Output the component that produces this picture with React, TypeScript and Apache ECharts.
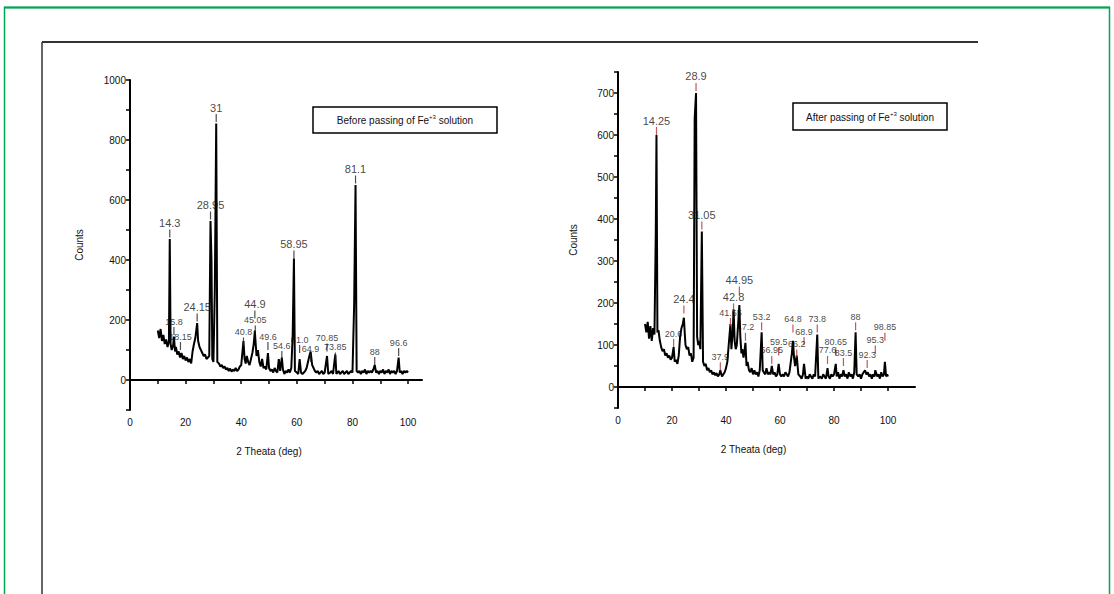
import React, { useEffect, useRef } from "react";
import * as echarts from "echarts";

// ---- Data: "Before passing of Fe+3 solution" ----
const leftTheta = [10,10.5,11,11.5,12,12.5,13,13.5,14,14.3,14.6,15,15.5,15.8,16.2,16.5,17,17.5,18,18.5,19,19.5,20,20.5,21,21.5,22,22.5,23,23.5,24.15,24.5,25,25.5,26,26.5,27,27.5,28,28.5,28.95,29.3,29.6,30,30.5,31,31.4,32,32.5,33,33.5,34,34.5,35,35.5,36,36.5,37,37.5,38,38.5,39,39.5,40,40.8,41.2,41.6,42,42.5,43,43.5,44,44.5,44.9,45.05,45.5,46,46.5,47,47.5,48,48.5,49,49.6,50,50.5,51,51.5,52,52.5,53,53.5,54,54.6,55,55.5,56,56.5,57,57.5,58,58.5,58.95,59.3,60,60.5,61,61.5,62,62.5,63,63.5,64,64.5,64.95,65.5,66,66.5,67,67.5,68,68.5,69,69.5,70,70.85,71.3,72,72.5,73,73.5,73.85,74.2,75,75.5,76,76.5,77,77.5,78,78.5,79,79.5,80,80.6,81.1,81.5,82,82.5,83,83.5,84,84.5,85,85.5,86,86.5,87,87.5,88,88.5,89,89.5,90,90.5,91,91.5,92,92.5,93,93.5,94,94.5,95,95.5,96,96.6,97,97.5,98,98.5,99,99.5,100];
const leftCounts = [165,140,170,130,150,120,135,110,130,470,120,100,115,145,95,110,85,95,75,90,70,80,65,75,60,70,55,95,120,140,190,130,110,100,90,80,85,70,75,80,530,400,70,60,300,855,60,55,45,50,40,45,35,40,30,38,28,35,30,40,30,35,45,50,130,70,55,80,60,50,70,90,120,165,140,80,100,60,45,70,40,45,35,90,40,30,35,25,40,30,25,70,30,75,35,20,30,25,35,25,40,150,405,30,25,20,70,25,20,25,30,40,60,80,95,50,40,30,25,30,20,25,30,20,25,80,20,25,30,20,60,85,20,30,20,25,30,20,25,30,20,25,30,25,250,650,30,25,30,20,30,25,35,20,30,25,30,25,35,50,25,30,20,30,25,35,20,30,25,35,20,30,25,30,20,30,75,25,30,20,30,25,30,25];

const leftPeakTheta = [14.3,15.8,18.15,24.15,28.95,31,40.8,44.9,45.05,49.6,54.6,61.0,64.95,70.85,73.85,58.95,81.1,88,96.6];
const leftPeakCounts = [475,150,100,195,535,860,115,205,155,100,70,90,60,95,65,405,655,50,80];
const leftPeakLabels = ["14.3","15.8","18.15","24.15","28.95","31","40.8","44.9","45.05","49.6","54.6","61.0","64.9","70.85","73.85","58.95","81.1","88","96.6"];

// ---- Data: "After passing of Fe+3 solution" ----
const rightTheta = [10,10.5,11,11.5,12,12.5,13,13.5,14,14.25,14.6,15,15.5,16,16.5,17,17.5,18,18.5,19,19.5,20,20.6,21,21.5,22,22.5,23,23.5,24,24.4,24.8,25,25.5,26,26.5,27,27.5,28,28.4,28.9,29.3,29.7,30,30.5,31.05,31.5,32,32.5,33,33.5,34,34.5,35,35.5,36,36.5,37,37.5,37.9,38.5,39,39.5,40,40.5,41,41.65,42,42.5,42.8,43.2,43.6,44,44.5,44.95,45.3,45.7,46,46.5,47.2,47.6,48,48.5,49,49.5,50,50.5,51,51.5,52,52.5,53.2,53.6,54,54.5,55,55.5,56,56.5,56.95,57.5,58,58.5,59,59.5,60,60.5,61,61.5,62,62.5,63,63.5,64,64.4,64.8,65.2,65.6,66.2,66.8,67.5,68,68.5,68.9,69.5,70,70.5,71,71.5,72,72.5,73,73.8,74.2,74.8,75.5,76,76.5,77,77.6,78,78.5,79,79.5,80,80.65,81,81.5,82,82.5,83,83.5,84,84.5,85,85.5,86,86.5,87,87.5,88,88.4,89,89.5,90,90.5,91,91.5,92,92.5,93,93.5,94,94.5,95,95.3,96,96.5,97,97.5,98,98.5,98.85,99.3,99.7,100];
const rightCounts = [150,130,155,115,145,110,140,125,370,600,130,135,110,95,85,90,75,80,70,75,65,70,95,60,65,55,75,120,140,150,165,120,100,90,95,75,80,60,70,640,700,120,100,110,90,370,60,50,55,40,45,35,40,30,35,28,33,25,30,40,25,30,35,45,60,100,150,90,130,185,110,90,100,150,195,120,80,90,70,105,50,60,40,35,45,30,40,30,35,25,40,130,40,35,30,45,30,35,30,50,30,35,25,30,55,30,25,30,25,35,30,25,35,60,80,110,70,50,75,30,25,20,30,55,20,25,20,30,25,20,30,25,125,20,25,20,30,25,20,45,25,20,30,25,30,55,25,35,20,30,25,40,25,30,20,35,25,30,20,35,130,30,25,30,20,30,35,40,30,35,25,30,20,30,25,40,25,30,20,35,25,30,60,25,30,25];

const rightPeakTheta = [14.25,20.6,24.4,28.9,31.05,37.9,41.65,42.8,44.95,47.2,53.2,56.95,59.5,64.8,66.2,68.9,73.8,77.6,80.65,83.5,88,92.3,95.3,98.85];
const rightPeakCounts = [600,95,175,705,375,40,145,180,220,110,135,55,75,130,70,100,130,55,75,50,135,45,80,110];
const rightPeakLabels = ["14.25","20.6","24.4","28.9","31.05","37.9","41.65","42.8","44.95","47.2","53.2","56.95","59.5","64.8","66.2","68.9","73.8","77.6","80.65","83.5","88","92.3","95.3","98.85"];

const FONT = "'Liberation Sans Narrow', 'Liberation Sans', Arial, sans-serif";

export default function App() {
  const ref = useRef<HTMLDivElement>(null);
  useEffect(() => {
    if (!ref.current) return;
    const chart = echarts.init(ref.current, undefined, { renderer: "svg" });
    const axisLine = { show: true, lineStyle: { color: "#000", width: 2 } };
    const tickStyle = { show: true, length: 4, lineStyle: { color: "#000", width: 1.5 } };
    const labelStyle = { color: "#111", fontSize: 10, fontFamily: FONT };
    const xAxisBase = (idx: number, max: number, pad: number) => ({
      type: "value",
      gridIndex: idx,
      min: 0,
      max,
      interval: 10,
      axisLine,
      axisTick: tickStyle,
      splitLine: { show: false },
      axisLabel: {
        ...labelStyle,
        margin: 7,
        showMaxLabel: false,
        formatter: (v: number) => (v % 20 === 0 && v <= 100 ? String(v) : ""),
      },
      name: "2 Theata (deg)",
      nameLocation: "middle",
      nameGap: 36,
      nameTextStyle: { color: "#111", fontSize: 10, fontFamily: FONT, padding: [0, pad, 0, 0] },
    });
    const peakSeries = (idx: number, xs: number[], ys: number[], labels: string[], color: string, big: number) => ({
      type: "scatter",
      xAxisIndex: idx,
      yAxisIndex: idx,
      data: xs.map((x, i) => ({
        value: [x, ys[i]],
        label: { fontSize: ys[i] > big ? 11 : 9, color: "#111" },
      })),
      symbol: "rect",
      symbolSize: [1.2, 8],
      symbolOffset: [0, -4],
      itemStyle: { color },
      z: 5,
      label: {
        show: true,
        position: "top",
        distance: 1,
        color: "#111",
        fontSize: 9,
        fontFamily: FONT,
        formatter: (p: any) => labels[p.dataIndex],
      },
    });
    chart.setOption({
      animation: false,
      backgroundColor: "#fff",
      grid: [
        { left: 130, top: 80, width: 292, height: 330 },
        { left: 618, top: 72, width: 297, height: 336 },
      ],
      xAxis: [xAxisBase(0, 105, 14), xAxisBase(1, 110, 26)],
      yAxis: [
        {
          type: "value",
          gridIndex: 0,
          min: -100,
          max: 1000,
          interval: 100,
          axisLine,
          axisTick: tickStyle,
          splitLine: { show: false },
          axisLabel: {
            ...labelStyle,
            margin: 4,
            formatter: (v: number) => (v >= 0 && v % 200 === 0 ? String(v) : ""),
          },
          name: "Counts",
          nameLocation: "middle",
          nameRotate: 90,
          nameGap: 46,
          nameTextStyle: { color: "#111", fontSize: 10, fontFamily: FONT },
        },
        {
          type: "value",
          gridIndex: 1,
          min: -50,
          max: 750,
          interval: 50,
          axisLine,
          axisTick: tickStyle,
          splitLine: { show: false },
          axisLabel: {
            ...labelStyle,
            margin: 4,
            formatter: (v: number) => (v >= 0 && v % 100 === 0 ? String(v) : ""),
          },
          name: "Counts",
          nameLocation: "middle",
          nameRotate: 90,
          nameGap: 40,
          nameTextStyle: { color: "#111", fontSize: 10, fontFamily: FONT },
        },
      ],
      series: [
        {
          type: "line",
          xAxisIndex: 0,
          yAxisIndex: 0,
          data: leftTheta.map((x, i) => [x, leftCounts[i]]),
          showSymbol: false,
          lineStyle: { color: "#000", width: 2 },
        },
        peakSeries(0, leftPeakTheta, leftPeakCounts, leftPeakLabels, "#222", 180),
        {
          type: "line",
          xAxisIndex: 1,
          yAxisIndex: 1,
          data: rightTheta.map((x, i) => [x, rightCounts[i]]),
          showSymbol: false,
          lineStyle: { color: "#000", width: 2 },
        },
        peakSeries(1, rightPeakTheta, rightPeakCounts, rightPeakLabels, "#b03030", 160),
      ],
      graphic: [
        {
          type: "rect",
          shape: { x: 4.5, y: 7.5, width: 1105, height: 620 },
          style: { fill: "none", stroke: "#00a651", lineWidth: 1.5 },
        },
        {
          type: "line",
          shape: { x1: 4, y1: 7.5, x2: 1110, y2: 7.5 },
          style: { stroke: "#00a651", lineWidth: 2 },
        },
        {
          type: "line",
          shape: { x1: 42, y1: 42, x2: 978, y2: 42 },
          style: { stroke: "#333", lineWidth: 2 },
        },
        {
          type: "line",
          shape: { x1: 42, y1: 42, x2: 42, y2: 600 },
          style: { stroke: "#333", lineWidth: 1.5 },
        },
        {
          type: "rect",
          shape: { x: 313, y: 107, width: 184, height: 26 },
          style: { fill: "#fff", stroke: "#000", lineWidth: 1.5 },
        },
        {
          type: "text",
          x: 405,
          y: 120,
          style: {
            text: "Before passing of Fe{sup|+3} solution",
            fill: "#111",
            font: `10px ${FONT}`,
            align: "center",
            verticalAlign: "middle",
            rich: { sup: { fontSize: 6, fontFamily: FONT, verticalAlign: "top", padding: [0, 0, 6, 0], fill: "#111" } },
          },
        },
        {
          type: "rect",
          shape: { x: 793, y: 103, width: 154, height: 27 },
          style: { fill: "#fff", stroke: "#000", lineWidth: 1.5 },
        },
        {
          type: "text",
          x: 870,
          y: 117,
          style: {
            text: "After passing of Fe{sup|+3} solution",
            fill: "#111",
            font: `10px ${FONT}`,
            align: "center",
            verticalAlign: "middle",
            rich: { sup: { fontSize: 6, fontFamily: FONT, verticalAlign: "top", padding: [0, 0, 6, 0], fill: "#111" } },
          },
        },
      ],
    });
    return () => chart.dispose();
  }, []);
  return (
    <div
      ref={ref}
      style={{ position: "fixed", left: 0, top: 0, width: 1114, height: 594, background: "#fff" }}
    />
  );
}
